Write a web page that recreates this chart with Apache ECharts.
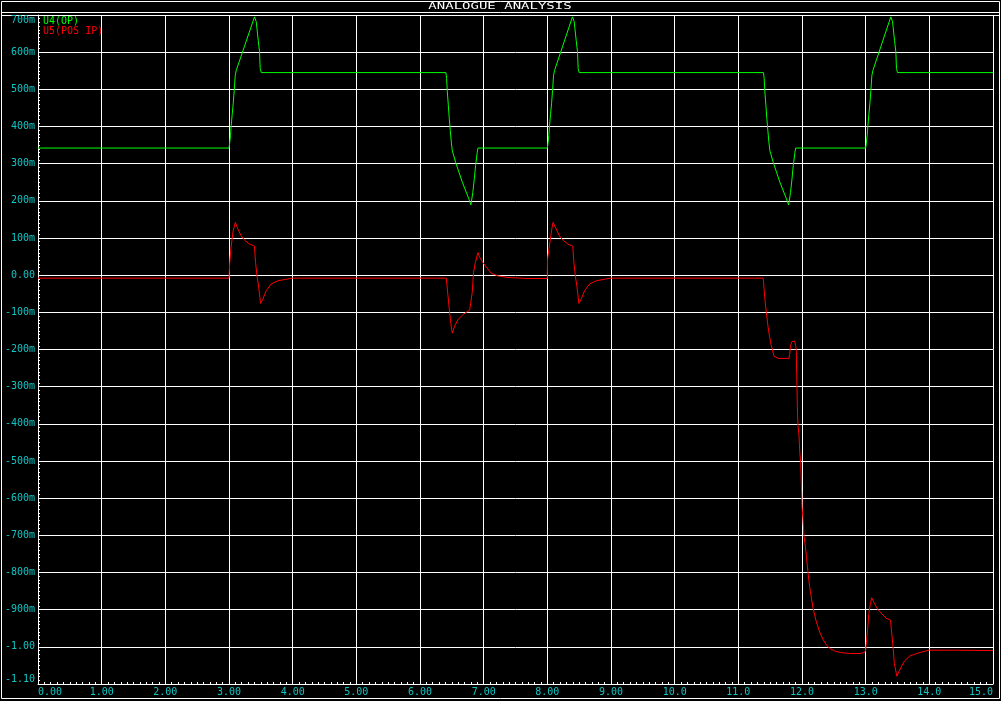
<!DOCTYPE html>
<html>
<head>
<meta charset="utf-8">
<title>Analogue Analysis</title>
<script src="https://cdn.jsdelivr.net/npm/echarts@6/dist/echarts.min.js"></script>
<style>
  html, body { margin: 0; padding: 0; background: #000; }
  #chart { width: 1001px; height: 701px; }
</style>
</head>
<body>
<div id="chart"></div>
<script>
// tick labels (as printed by the simulator)
var xTickLabels = ["0.00", "1.00", "2.00", "3.00", "4.00", "5.00", "6.00", "7.00",
  "8.00", "9.00", "10.0", "11.0", "12.0", "13.0", "14.0", "15.0"];
var yTickLabels = ["-1.10", "-1.00", "-900m", "-800m", "-700m", "-600m", "-500m",
  "-400m", "-300m", "-200m", "-100m", "0.00", "100m", "200m", "300m", "400m",
  "500m", "600m", "700m"];

var seriesNames = ["U4(OP)", "U5(POS IP)"];

// U4(OP) - [time, volts]
var u4Data = [
  [0, 0.342], [3.0, 0.342], [3.009, 0.353], [3.024, 0.376], [3.035, 0.403],
  [3.05, 0.432], [3.066, 0.461], [3.082, 0.497], [3.098, 0.538], [3.114, 0.551],
  [3.401, 0.695], [3.428, 0.682], [3.459, 0.632], [3.48, 0.601], [3.49, 0.556],
  [3.507, 0.545],
  [6.407, 0.545], [6.418, 0.529], [6.429, 0.493], [6.445, 0.457], [6.46, 0.421],
  [6.476, 0.389], [6.492, 0.358], [6.507, 0.335], [6.559, 0.304], [6.665, 0.25],
  [6.768, 0.205], [6.8, 0.189], [6.83, 0.223], [6.853, 0.259], [6.873, 0.295],
  [6.9, 0.331], [6.91, 0.342],
  [8.0, 0.342], [8.009, 0.353], [8.024, 0.376], [8.035, 0.403], [8.05, 0.432],
  [8.066, 0.461], [8.082, 0.497], [8.098, 0.538], [8.114, 0.551], [8.395, 0.695],
  [8.422, 0.682], [8.453, 0.632], [8.474, 0.601], [8.484, 0.556], [8.5, 0.545],
  [11.395, 0.545], [11.406, 0.529], [11.417, 0.493], [11.433, 0.457], [11.448, 0.421],
  [11.464, 0.389], [11.48, 0.358], [11.495, 0.335], [11.547, 0.304], [11.653, 0.25],
  [11.756, 0.205], [11.79, 0.189], [11.82, 0.223], [11.843, 0.259], [11.863, 0.295],
  [11.89, 0.331], [11.9, 0.342],
  [13.0, 0.342], [13.009, 0.353], [13.024, 0.376], [13.035, 0.403], [13.05, 0.432],
  [13.066, 0.461], [13.082, 0.497], [13.098, 0.538], [13.114, 0.551], [13.395, 0.695],
  [13.422, 0.682], [13.453, 0.632], [13.474, 0.601], [13.484, 0.556], [13.5, 0.545],
  [15.0, 0.545]
];

// U5(POS IP) - [time, volts]
var u5Data = [
  [0, -0.008], [3.0, -0.008], [3.01, 0.03], [3.03, 0.072], [3.066, 0.12],
  [3.1, 0.142], [3.14, 0.124], [3.19, 0.106], [3.245, 0.094], [3.32, 0.084],
  [3.4, 0.078], [3.417, 0.034], [3.44, -0.002], [3.464, -0.029], [3.496, -0.076],
  [3.53, -0.065], [3.585, -0.042], [3.66, -0.024], [3.77, -0.015], [3.9, -0.011],
  [4.0, -0.008],
  [6.413, -0.008], [6.44, -0.056], [6.465, -0.1], [6.49, -0.137], [6.507, -0.156],
  [6.544, -0.137], [6.596, -0.12], [6.674, -0.106], [6.78, -0.094], [6.806, -0.09],
  [6.82, -0.047], [6.84, 0.007], [6.87, 0.034], [6.91, 0.061], [6.936, 0.048],
  [7.004, 0.03], [7.12, 0.005], [7.224, -0.002], [7.366, -0.006], [7.68, -0.009],
  [8.0, -0.009], [8.003, 0.043], [8.04, 0.088], [8.07, 0.124], [8.09, 0.142],
  [8.14, 0.124], [8.19, 0.106], [8.245, 0.094], [8.32, 0.084], [8.4, 0.078],
  [8.417, 0.034], [8.44, -0.002], [8.464, -0.029], [8.496, -0.076], [8.53, -0.065],
  [8.585, -0.042], [8.66, -0.024], [8.77, -0.015], [8.9, -0.011], [9.0, -0.008],
  [11.387, -0.008], [11.395, -0.015], [11.403, -0.036], [11.425, -0.078], [11.44, -0.1],
  [11.466, -0.138], [11.49, -0.164], [11.513, -0.186], [11.535, -0.2], [11.56, -0.218],
  [11.623, -0.224], [11.795, -0.224], [11.806, -0.213], [11.82, -0.189], [11.84, -0.179],
  [11.85, -0.177], [11.87, -0.179], [11.885, -0.177], [11.9, -0.19], [11.91, -0.2],
  [11.917, -0.27], [11.93, -0.375], [11.937, -0.405], [11.953, -0.43], [11.964, -0.474],
  [11.98, -0.505], [11.99, -0.564], [12.0, -0.622], [12.016, -0.658], [12.03, -0.699],
  [12.053, -0.73], [12.07, -0.757], [12.095, -0.802], [12.12, -0.838], [12.148, -0.869],
  [12.173, -0.896], [12.226, -0.933], [12.278, -0.96], [12.33, -0.98], [12.383, -0.995],
  [12.435, -1.004], [12.51, -1.011], [12.6, -1.015], [12.75, -1.018], [12.91, -1.018],
  [12.985, -1.015], [13.0, -1.009], [13.03, -0.955], [13.05, -0.91], [13.07, -0.888],
  [13.095, -0.868], [13.137, -0.883], [13.19, -0.899], [13.27, -0.914], [13.32, -0.923],
  [13.39, -0.928], [13.405, -0.955], [13.43, -1.0], [13.45, -1.045], [13.49, -1.079],
  [13.52, -1.067], [13.56, -1.054], [13.61, -1.038], [13.69, -1.025], [13.8, -1.018],
  [13.9, -1.013], [14.0, -1.009], [14.43, -1.009], [14.45, -1.01], [15.0, -1.01]
];

var FONT = '"DejaVu Sans Mono", monospace';
var LABEL_COLOR = "#10c4c4";

var chartDom = document.getElementById("chart");
var myChart = echarts.init(chartDom, null, { renderer: "canvas" });
var option;

option = {
  backgroundColor: "#000000",
  animation: false,
  grid: {
    left: 38,
    top: 15,
    width: 955,
    height: 669,
    containLabel: false,
  },
  graphic: [
    // outer frame + title bar
    {
      type: "rect",
      shape: { x: 1.5, y: 1.5, width: 998, height: 697 },
      style: { fill: null, stroke: "#ffffff", lineWidth: 1 },
      silent: true,
    },
    {
      type: "line",
      shape: { x1: 1.5, y1: 12.5, x2: 999.5, y2: 12.5 },
      style: { stroke: "#ffffff", lineWidth: 1 },
      silent: true,
    },
    {
      type: "line",
      shape: { x1: 1.5, y1: 15.5, x2: 999.5, y2: 15.5 },
      style: { stroke: "#ffffff", lineWidth: 1 },
      silent: true,
    },
    {
      type: "text",
      x: 500,
      y: 7,
      scaleX: 1.75,
      style: {
        text: "ANALOGUE ANALYSIS",
        fill: "#ffffff",
        font: "8px " + FONT,
        textAlign: "center",
        textVerticalAlign: "middle",
      },
      silent: true,
    },
    // legend texts
    {
      type: "text",
      x: 43,
      y: 21,
      style: {
        text: seriesNames[0],
        fill: "#00ff00",
        font: "10px " + FONT,
        textAlign: "left",
        textVerticalAlign: "middle",
      },
      silent: true,
    },
    {
      type: "text",
      x: 43,
      y: 31,
      style: {
        text: seriesNames[1],
        fill: "#ff0000",
        font: "10px " + FONT,
        textAlign: "left",
        textVerticalAlign: "middle",
      },
      silent: true,
    },
  ],
  xAxis: {
    type: "value",
    min: 0,
    max: 15,
    interval: 1,
    axisLine: { show: true, onZero: false, lineStyle: { color: "#ffffff", width: 1 } },
    axisTick: { show: false, inside: true },
    minorTick: {
      show: true,
      splitNumber: 10,
      length: 2,
      lineStyle: { color: "#ffffff", width: 1 },
    },
    splitLine: { show: true, lineStyle: { color: "#ffffff", width: 1 } },
    axisLabel: {
      color: LABEL_COLOR,
      fontFamily: FONT,
      fontSize: 10,
      margin: 3,
      alignMinLabel: "left",
      alignMaxLabel: "right",
      formatter: function (v) {
        return xTickLabels[Math.round(v)];
      },
    },
  },
  yAxis: {
    type: "value",
    min: -1.1,
    max: 0.7,
    interval: 0.1,
    axisLine: { show: true, onZero: false, lineStyle: { color: "#ffffff", width: 1 } },
    axisTick: { show: false, inside: true },
    minorTick: {
      show: true,
      splitNumber: 10,
      length: 2,
      lineStyle: { color: "#ffffff", width: 1 },
    },
    splitLine: { show: true, lineStyle: { color: "#ffffff", width: 1 } },
    axisLabel: {
      color: LABEL_COLOR,
      fontFamily: FONT,
      fontSize: 10,
      margin: 3,
      verticalAlignMinLabel: "bottom",
      verticalAlignMaxLabel: "top",
      formatter: function (v) {
        return yTickLabels[Math.round((v + 1.1) / 0.1)];
      },
    },
  },
  series: [
    {
      name: seriesNames[0],
      type: "line",
      data: u4Data,
      showSymbol: false,
      lineStyle: { color: "#00ff00", width: 1 },
      itemStyle: { color: "#00ff00" },
      z: 3,
    },
    {
      name: seriesNames[1],
      type: "line",
      data: u5Data,
      showSymbol: false,
      lineStyle: { color: "#ff0000", width: 1 },
      itemStyle: { color: "#ff0000" },
      z: 4,
    },
  ],
};

option && myChart.setOption(option);
</script>
</body>
</html>
